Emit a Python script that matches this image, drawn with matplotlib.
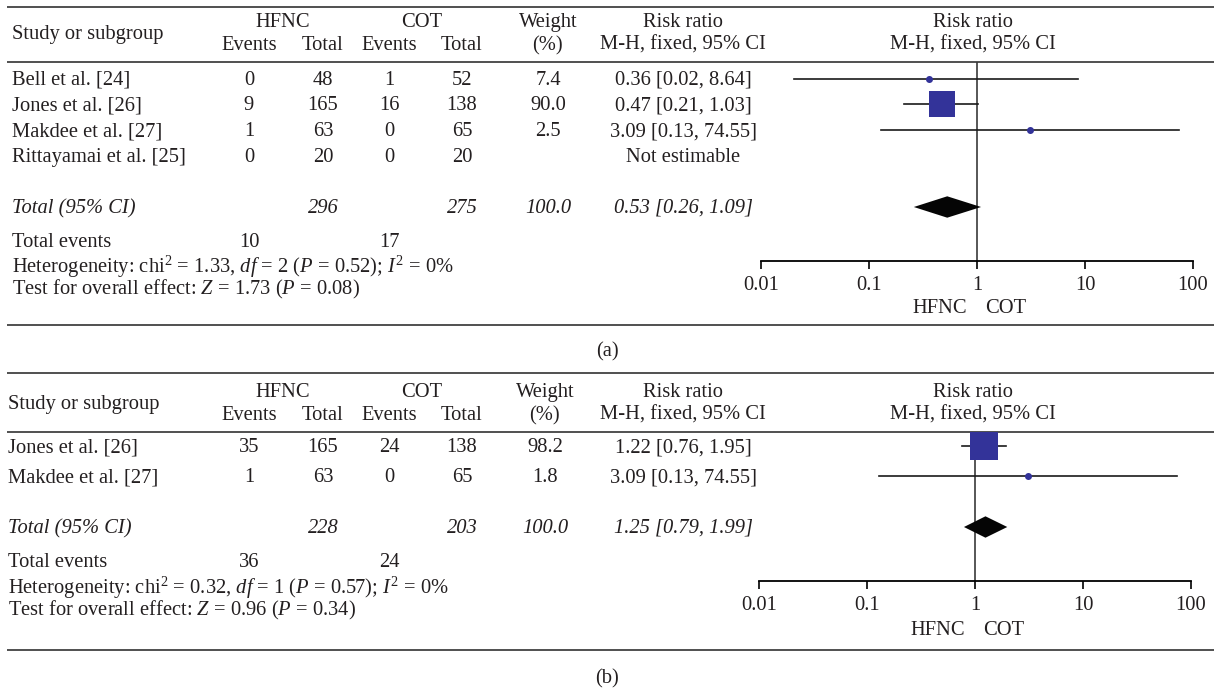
import numpy as np
import matplotlib
matplotlib.use('Agg')
import matplotlib.pyplot as plt
from matplotlib.patches import Polygon

plt.rcParams['font.family'] = ['Liberation Serif', 'DejaVu Serif']
plt.rcParams['mathtext.fontset'] = 'custom'
plt.rcParams['mathtext.rm'] = 'Liberation Serif'
plt.rcParams['mathtext.it'] = 'Liberation Serif:italic'

W, H = 1214, 690
TXT = '#231f20'
BOX = '#333399'
FS = 14.8

# ---- data, panel (a)
studies_a = ['Bell et al. [24]', 'Jones et al. [26]', 'Makdee et al. [27]', 'Rittayamai et al. [25]']
ev_hfnc_a = [0, 9, 1, 0]
n_hfnc_a = [48, 165, 63, 20]
ev_cot_a = [1, 16, 0, 0]
n_cot_a = [52, 138, 65, 20]
weight_a = [7.4, 90.0, 2.5, None]
rr_a = [0.36, 0.47, 3.09, None]
lo_a = [0.02, 0.21, 0.13, None]
hi_a = [8.64, 1.03, 74.55, None]
tot_a = (296, 275, 100.0)
pooled_a = (0.53, 0.26, 1.09)
events_a = (10, 17)
het_a = ('1.33', '2', '0.52', '0')
z_a = ('1.73', '0.08')

# ---- data, panel (b)
studies_b = ['Jones et al. [26]', 'Makdee et al. [27]']
ev_hfnc_b = [35, 1]
n_hfnc_b = [165, 63]
ev_cot_b = [24, 0]
n_cot_b = [138, 65]
weight_b = [98.2, 1.8]
rr_b = [1.22, 3.09]
lo_b = [0.76, 0.13]
hi_b = [1.95, 74.55]
tot_b = (228, 203, 100.0)
pooled_b = (1.25, 0.79, 1.99)
events_b = (36, 24)
het_b = ('0.32', '1', '0.57', '0')
z_b = ('0.96', '0.34')

ticks = [0.01, 0.1, 1, 10, 100]
tick_labels = ['0.01', '0.1', '1', '10', '100']

# ---- layout (pixels)
lay_a = dict(top=7, h1=21, hmid=33, h2=44, hrule=62, rows=[79, 104, 130, 156], total=207,
             events=241, het=265, test=288, bottom=325, base=261, fav=307, label=350,
             left=12, wcol=548, fx0=761, fx1=1193, tag='(a)')
lay_b = dict(top=373, h1=391, hmid=403, h2=414, hrule=432, rows=[446, 476], total=527,
             events=561, het=586, test=609, bottom=650, base=581, fav=629, label=677,
             left=8, wcol=545, fx0=759, fx1=1191, tag='(b)')

C_EV1, C_N1, C_EV2, C_N2, C_RR = 249, 323, 389, 462, 683
DY = 1.5  # text sits a bit low relative to its bbox centre

fig = plt.figure(figsize=(W / 100, H / 100), dpi=100)
ax0 = fig.add_axes([0, 0, 1, 1])
ax0.set_xlim(0, W)
ax0.set_ylim(H, 0)
ax0.axis('off')


def t(x, y, s, ha='center', style='normal'):
    ax0.text(x, y + DY, s, ha=ha, va='center', fontsize=FS, color=TXT, fontstyle=style)


def panel(L, studies, ev1, n1, ev2, n2, wt, rr, lo, hi, tot, pooled, events, het, z):
    for y in (L['top'], L['hrule'], L['bottom']):
        ax0.plot([7, W], [y, y], color='#505050', lw=1.4, solid_capstyle='butt')
    # header
    t(L['left'], L['hmid'], 'Study or subgroup', ha='left')
    t(283, L['h1'], 'HFNC')
    t(422, L['h1'], 'COT')
    t(L['wcol'], L['h1'], 'Weight')
    t(C_RR, L['h1'], 'Risk ratio')
    t(973, L['h1'], 'Risk ratio')
    t(C_EV1, L['h2'], 'Events')
    t(C_N1, L['h2'], 'Total')
    t(C_EV2, L['h2'], 'Events')
    t(C_N2, L['h2'], 'Total')
    t(L['wcol'] - 1, L['h2'], '(%)')
    t(C_RR, L['h2'], 'M-H, fixed, 95% CI')
    t(973, L['h2'], 'M-H, fixed, 95% CI')
    # study rows
    for i, s in enumerate(studies):
        y = L['rows'][i]
        t(L['left'], y, s, ha='left')
        t(C_EV1, y, str(ev1[i]))
        t(C_N1, y, str(n1[i]))
        t(C_EV2, y, str(ev2[i]))
        t(C_N2, y, str(n2[i]))
        if wt[i] is None:
            t(C_RR, y, 'Not estimable')
        else:
            t(L['wcol'], y, '%.1f' % wt[i])
            t(C_RR, y, '%.2f [%.2f, %.2f]' % (rr[i], lo[i], hi[i]))
    # totals
    t(L['left'], L['total'], 'Total (95% CI)', ha='left', style='italic')
    t(C_N1, L['total'], str(tot[0]), style='italic')
    t(C_N2, L['total'], str(tot[1]), style='italic')
    t(L['wcol'], L['total'], '%.1f' % tot[2], style='italic')
    t(C_RR, L['total'], '%.2f [%.2f, %.2f]' % pooled, style='italic')
    t(L['left'], L['events'], 'Total events', ha='left')
    t(C_EV1, L['events'], str(events[0]))
    t(C_EV2, L['events'], str(events[1]))
    t(L['left'], L['het'], 'Heterogeneity: chi$^2$ = %s, $df$ = %s ($P$ = %s); $I^2$ = %s%%' % het, ha='left')
    t(L['left'], L['test'], 'Test for overall effect: $Z$ = %s ($P$ = %s)' % z, ha='left')
    t(607, L['label'], L['tag'])

    # forest plot
    fx0, fx1 = L['fx0'], L['fx1']
    ax = fig.add_axes([fx0 / W, 1 - L['base'] / H, (fx1 - fx0) / W, (L['base'] - L['hrule']) / H])
    ax.set_xscale('log')
    ax.set_xlim(0.01, 100)
    ax.set_ylim(L['base'], L['hrule'])
    ax.patch.set_visible(False)
    for sp in ('top', 'left', 'right'):
        ax.spines[sp].set_visible(False)
    ax.spines['bottom'].set_linewidth(1.3)
    ax.set_yticks([])
    ax.set_xticks(ticks)
    ax.set_xticklabels(tick_labels)
    ax.minorticks_off()
    ax.tick_params(axis='x', direction='out', length=6, width=1.2, pad=4.5,
                   labelsize=FS, labelcolor=TXT)
    ax.axvline(1, color='#3a3a3a', lw=1.2, zorder=1)
    for i in range(len(studies)):
        if rr[i] is None:
            continue
        y = L['rows'][i]
        ax.plot([lo[i], hi[i]], [y, y], color='#1a1a1a', lw=1.2, zorder=2)
        if wt[i] >= 20:
            side = 27 * np.sqrt(wt[i] / 90.0)
            ax.plot(rr[i], y, marker='s', ms=side * 0.72, mew=0, color=BOX, zorder=3, clip_on=False)
        else:
            ax.plot(rr[i], y, marker='o', ms=7 * 0.72, mew=0, color=BOX, zorder=3, clip_on=False)
    est, plo, phi = pooled
    yc = L['total']
    ax.add_patch(Polygon([(plo, yc), (est, yc - 10.7), (phi, yc), (est, yc + 10.7)],
                         closed=True, facecolor='#050505', edgecolor='none', zorder=3))
    xc = fx0 + (fx1 - fx0) * 0.5
    t(xc - 37, L['fav'], 'HFNC')
    t(xc + 29, L['fav'], 'COT')


panel(lay_a, studies_a, ev_hfnc_a, n_hfnc_a, ev_cot_a, n_cot_a, weight_a, rr_a, lo_a, hi_a,
      tot_a, pooled_a, events_a, het_a, z_a)
panel(lay_b, studies_b, ev_hfnc_b, n_hfnc_b, ev_cot_b, n_cot_b, weight_b, rr_b, lo_b, hi_b,
      tot_b, pooled_b, events_b, het_b, z_b)

fig.savefig('out.png', dpi=100)
